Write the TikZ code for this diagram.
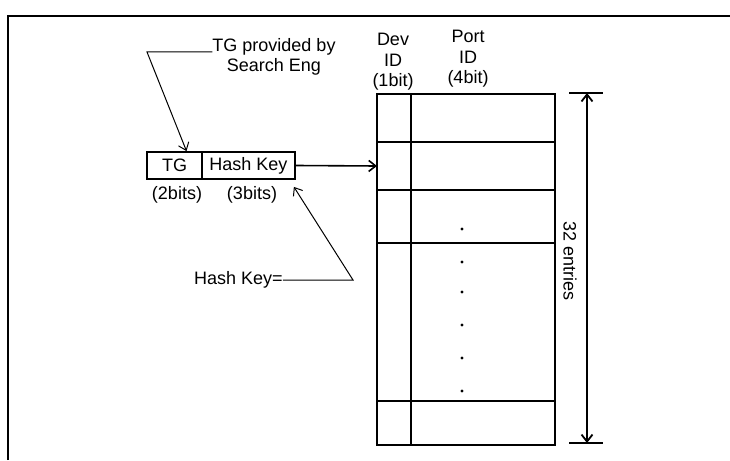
\documentclass[tikz,border=0pt]{standalone}
\usepackage{fontspec}
\setmainfont{Liberation Sans}
\usetikzlibrary{arrows.meta}

\begin{document}
\begin{tikzpicture}[x=1pt,y=-1pt,
    every node/.style={font=\fontsize{18}{20.5}\selectfont,inner sep=0pt},
    field/.style={draw,line width=1.8pt,minimum height=27pt},
    leader/.style={line width=1pt},
    >={Straight Barb[length=7pt,width=11pt]}]
  \useasboundingbox (0,0) rectangle (730,460);
  \draw[line width=1.5pt] (8,460) -- (8,16) -- (730,16);   % frame

  % key made of TG and hash key
  \node[field,minimum width=55pt] (tg) at (174.5,165.5) {TG};
  \node[field,minimum width=93pt] (hash) at (248.5,165.5) {Hash Key};
  \node (tgbits) at (177,195) {(2bits)};
  \node (hashbits) at (252,195) {(3bits)};

  % notes
  \node[align=center] (tgnote) at (274,57) {TG provided by\\Search Eng};
  \coordinate (tgbend) at (147,52);
  \draw[leader,->] ([yshift=5pt]tgnote.west) -- (tgbend) -- ([xshift=12pt]tg.north);
  \node (hknote) at (238.5,280) {Hash Key=};
  \coordinate (hkbend) at (353,280);
  \draw[leader,->] (hknote.east) -- (hkbend) -- ([shift={(-2pt,-7pt)}]hash.south east);

  % table
  \node[align=center] (devhead) at (393,62) {Dev\\ID\\(1bit)};
  \node[align=center] (porthead) at (468,59) {Port\\ID\\(4bit)};
  \draw[line width=1.8pt] (377,94) rectangle (555,445);
  \foreach \y in {142,190,243,401}
    \draw[line width=1.8pt] (377,\y) -- (555,\y);
  \draw[line width=1.8pt] (411,94) -- (411,445);
  \foreach \y in {229,262,292,325,358,391}
    \fill (462,\y) circle (1.6);
  \coordinate (row2) at (377,166);
  \draw[line width=1.6pt,->] (hash.east) -- (row2);

  % size of table
  \draw[line width=1.8pt] (569,93) -- (603,93);
  \draw[line width=1.8pt] (569,443) -- (603,443);
  \coordinate (dimtop) at (587,93);
  \coordinate (dimbot) at (587,443);
  \draw[line width=1.8pt,<->] (dimtop) -- (dimbot);
  \node[rotate=-90] (entries) at (570,261) {32 entries};
\end{tikzpicture}
\end{document}
